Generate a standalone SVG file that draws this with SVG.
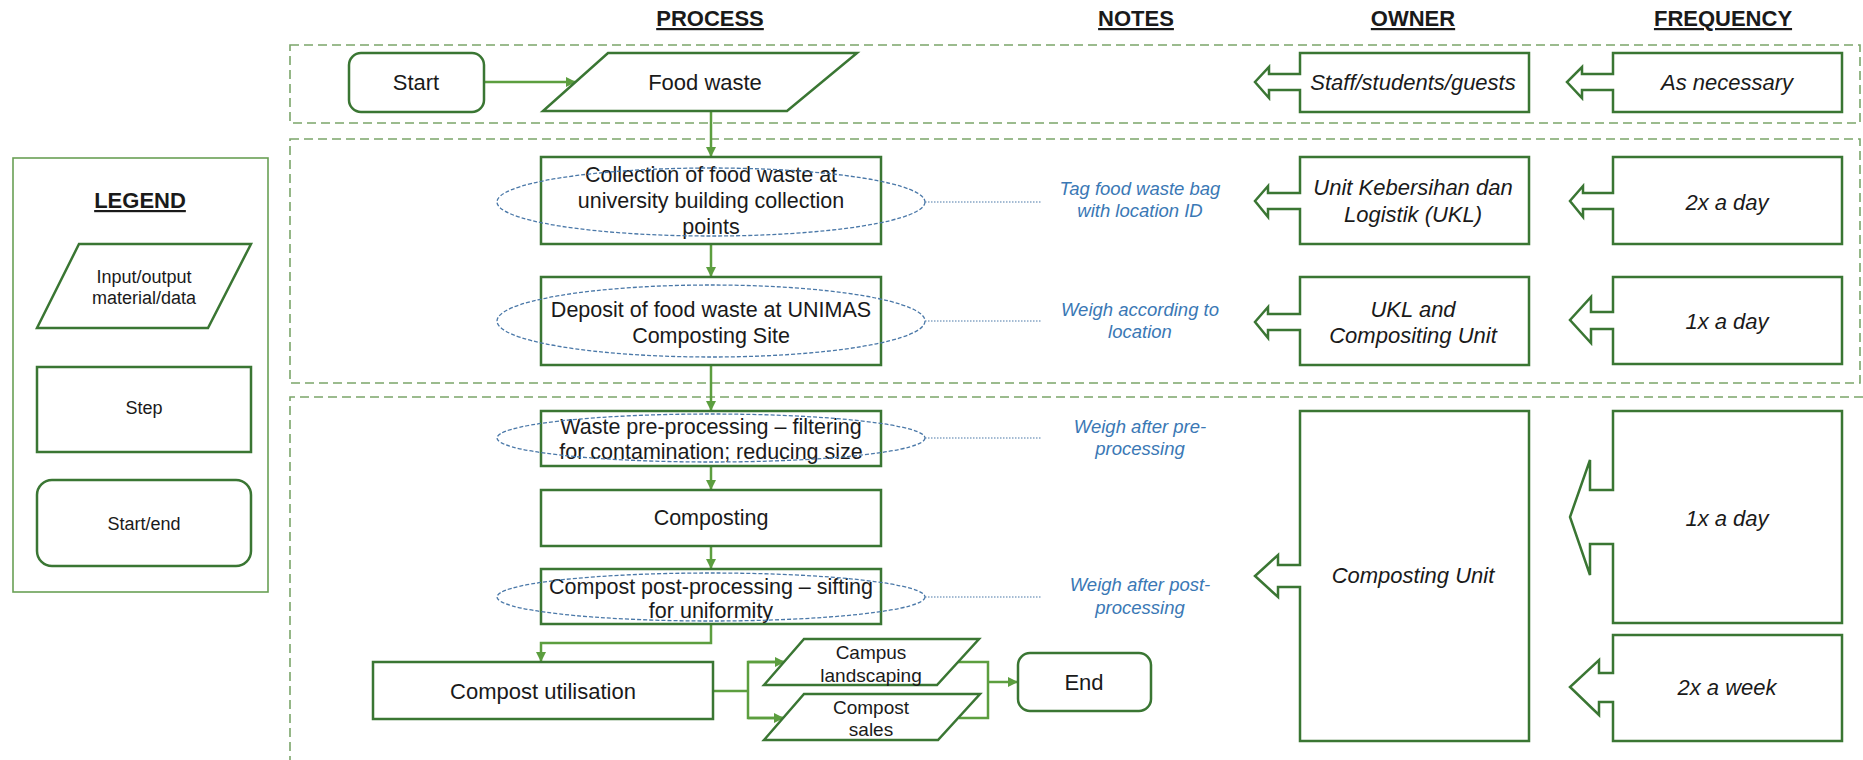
<svg xmlns="http://www.w3.org/2000/svg" width="1863" height="760" viewBox="0 0 1863 760">
  <defs>
    <marker id="arrow" viewBox="0 0 10 10" refX="9" refY="5" markerWidth="4" markerHeight="4" orient="auto" markerUnits="strokeWidth">
      <path d="M0,0 L10,5 L0,10 Z" fill="#5c9e3f"/>
    </marker>
    <style>
      .frame { fill: none; stroke: #7ba56a; stroke-width: 1.6; stroke-dasharray: 9 5; }
      .box { fill: #ffffff; stroke: #3a7633; stroke-width: 2.5; }
      .legend-frame { fill: #ffffff; stroke: #6aa055; stroke-width: 1.6; }
      .flow { fill: none; stroke: #5c9e3f; stroke-width: 2.5; }
      .oval { fill: none; stroke: #4a78a8; stroke-width: 1.3; stroke-dasharray: 4 2; }
      .leader { fill: none; stroke: #4a78a8; stroke-width: 1.2; stroke-dasharray: 1.5 1.5; }
      .head { font-family: "Liberation Sans", Arial, sans-serif; font-size: 22px; font-weight: bold; fill: #1a1a1a; text-anchor: middle; text-decoration: underline; }
      .t { font-family: "Liberation Sans", Arial, sans-serif; font-size: 21.5px; fill: #1a1a1a; text-anchor: middle; }
      .tl { font-family: "Liberation Sans", Arial, sans-serif; font-size: 22px; fill: #1a1a1a; text-anchor: middle; }
      .ts { font-family: "Liberation Sans", Arial, sans-serif; font-size: 19px; fill: #1a1a1a; text-anchor: middle; }
      .tg { font-family: "Liberation Sans", Arial, sans-serif; font-size: 18px; fill: #1a1a1a; text-anchor: middle; }
      .ti { font-family: "Liberation Sans", Arial, sans-serif; font-size: 22px; font-style: italic; fill: #1a1a1a; text-anchor: middle; }
      .note { font-family: "Liberation Sans", Arial, sans-serif; font-size: 18.5px; font-style: italic; fill: #3a78b5; text-anchor: middle; }
    </style>
  </defs>

  <rect width="1863" height="760" fill="#ffffff"/>

  <!-- column headers -->
  <g id="headers">
    <text class="head" x="710" y="26">PROCESS</text>
    <text class="head" x="1136" y="26">NOTES</text>
    <text class="head" x="1413" y="26">OWNER</text>
    <text class="head" x="1723" y="26">FREQUENCY</text>
  </g>

  <!-- stage frames -->
  <g id="frames">
    <rect class="frame" x="290" y="45" width="1570" height="78"/>
    <rect class="frame" x="290" y="139" width="1570" height="244"/>
    <path class="frame" d="M290,765 V397 H1870"/>
  </g>

  <!-- legend -->
  <g id="legend">
    <rect class="legend-frame" x="13" y="158" width="255" height="434"/>
    <text class="head" x="140" y="208">LEGEND</text>
    <polygon class="box" points="79,244 251,244 208,328 37,328"/>
    <text class="tg" x="144" y="283">Input/output</text>
    <text class="tg" x="144" y="304">material/data</text>
    <rect class="box" x="37" y="367" width="214" height="85"/>
    <text class="tg" x="144" y="414">Step</text>
    <rect class="box" x="37" y="480" width="214" height="86" rx="15"/>
    <text class="tg" x="144" y="530">Start/end</text>
  </g>

  <!-- connectors -->
  <g id="connectors">
    <line class="flow" x1="484" y1="82" x2="575" y2="82" marker-end="url(#arrow)"/>
    <line class="flow" x1="711" y1="111" x2="711" y2="156" marker-end="url(#arrow)"/>
    <line class="flow" x1="711" y1="244" x2="711" y2="276" marker-end="url(#arrow)"/>
    <line class="flow" x1="711" y1="365" x2="711" y2="410" marker-end="url(#arrow)"/>
    <line class="flow" x1="711" y1="466" x2="711" y2="489" marker-end="url(#arrow)"/>
    <line class="flow" x1="711" y1="546" x2="711" y2="568" marker-end="url(#arrow)"/>
    <polyline class="flow" points="711,624 711,643 541,643 541,661" marker-end="url(#arrow)"/>
    <polyline class="flow" points="713,691 748,691"/>
    <polyline class="flow" points="784,662 748,662 748,718 783,718"/>
    <line class="flow" x1="748" y1="662" x2="784" y2="662" marker-end="url(#arrow)"/>
    <line class="flow" x1="748" y1="718" x2="783" y2="718" marker-end="url(#arrow)"/>
    <polyline class="flow" points="958,662 988,662 988,718 959,718"/>
    <line class="flow" x1="988" y1="682" x2="1017" y2="682" marker-end="url(#arrow)"/>
  </g>

  <!-- process steps -->
  <g id="start">
    <rect class="box" x="349" y="53" width="135" height="59" rx="12"/>
    <text class="tl" x="416" y="90">Start</text>
  </g>
  <g id="food-waste">
    <polygon class="box" points="608,53 857,53 787,111 543,111"/>
    <text class="tl" x="705" y="90">Food waste</text>
  </g>
  <g id="collection">
    <rect class="box" x="541" y="157" width="340" height="87"/>
    <text class="t" x="711" y="182">Collection of food waste at</text>
    <text class="t" x="711" y="208">university building collection</text>
    <text class="t" x="711" y="234">points</text>
  </g>
  <g id="deposit">
    <rect class="box" x="541" y="277" width="340" height="88"/>
    <text class="t" x="711" y="317">Deposit of food waste at UNIMAS</text>
    <text class="t" x="711" y="343">Composting Site</text>
  </g>
  <g id="pre-processing">
    <rect class="box" x="541" y="411" width="340" height="55"/>
    <text class="t" x="711" y="434">Waste pre-processing – filtering</text>
    <text class="t" x="711" y="459">for contamination; reducing size</text>
  </g>
  <g id="composting">
    <rect class="box" x="541" y="490" width="340" height="56"/>
    <text class="t" x="711" y="525">Composting</text>
  </g>
  <g id="post-processing">
    <rect class="box" x="541" y="569" width="340" height="55"/>
    <text class="t" x="711" y="594">Compost post-processing – sifting</text>
    <text class="t" x="711" y="618">for uniformity</text>
  </g>
  <g id="utilisation">
    <rect class="box" x="373" y="662" width="340" height="57"/>
    <text class="tl" x="543" y="699">Compost utilisation</text>
  </g>
  <g id="landscaping">
    <polygon class="box" points="804,639 979,639 937,685 764,685"/>
    <text class="ts" x="871" y="659">Campus</text>
    <text class="ts" x="871" y="682">landscaping</text>
  </g>
  <g id="sales">
    <polygon class="box" points="804,694 980,694 938,740 764,740"/>
    <text class="ts" x="871" y="714">Compost</text>
    <text class="ts" x="871" y="736">sales</text>
  </g>
  <g id="end">
    <rect class="box" x="1018" y="653" width="133" height="58" rx="12"/>
    <text class="tl" x="1084" y="690">End</text>
  </g>

  <!-- highlighted steps with notes -->
  <g id="notes">
    <ellipse class="oval" cx="711" cy="202" rx="214" ry="34"/>
    <ellipse class="oval" cx="711" cy="321" rx="214" ry="36"/>
    <ellipse class="oval" cx="711" cy="438" rx="214" ry="24"/>
    <ellipse class="oval" cx="711" cy="597" rx="214" ry="24"/>
    <line class="leader" x1="925" y1="202" x2="1041" y2="202"/>
    <line class="leader" x1="925" y1="321" x2="1041" y2="321"/>
    <line class="leader" x1="925" y1="438" x2="1041" y2="438"/>
    <line class="leader" x1="925" y1="597" x2="1041" y2="597"/>
    <text class="note" x="1140" y="195">Tag food waste bag</text>
    <text class="note" x="1140" y="217">with location ID</text>
    <text class="note" x="1140" y="316">Weigh according to</text>
    <text class="note" x="1140" y="338">location</text>
    <text class="note" x="1140" y="433">Weigh after pre-</text>
    <text class="note" x="1140" y="455">processing</text>
    <text class="note" x="1140" y="591">Weigh after post-</text>
    <text class="note" x="1140" y="614">processing</text>
  </g>

  <!-- owners -->
  <g id="owner-1">
    <path class="box" d="M1300,53 H1529 V112 H1300 V90 H1269 V98 L1255,82 L1269,67 V74 H1300 Z"/>
    <text class="ti" x="1413" y="90">Staff/students/guests</text>
  </g>
  <g id="owner-2">
    <path class="box" d="M1300,157 H1529 V244 H1300 V209 H1268 V217 L1255,201 L1268,186 V193 H1300 Z"/>
    <text class="ti" x="1413" y="195">Unit Kebersihan dan</text>
    <text class="ti" x="1413" y="222">Logistik (UKL)</text>
  </g>
  <g id="owner-3">
    <path class="box" d="M1300,277 H1529 V365 H1300 V330 H1268 V338 L1255,322 L1268,307 V314 H1300 Z"/>
    <text class="ti" x="1413" y="317">UKL and</text>
    <text class="ti" x="1413" y="343">Compositing Unit</text>
  </g>
  <g id="owner-4">
    <path class="box" d="M1300,411 H1529 V741 H1300 V587 H1278 V597 L1255,576 L1278,555 V565 H1300 Z"/>
    <text class="ti" x="1413" y="583">Composting Unit</text>
  </g>

  <!-- frequencies -->
  <g id="freq-1">
    <path class="box" d="M1613,53 H1842 V112 H1613 V90 H1582 V98 L1567,82 L1582,67 V74 H1613 Z"/>
    <text class="ti" x="1727" y="90">As necessary</text>
  </g>
  <g id="freq-2">
    <path class="box" d="M1613,157 H1842 V244 H1613 V209 H1583 V217 L1570,201 L1583,186 V193 H1613 Z"/>
    <text class="ti" x="1727" y="210">2x a day</text>
  </g>
  <g id="freq-3">
    <path class="box" d="M1613,277 H1842 V364 H1613 V329 H1591 V343 L1570,320 L1591,297 V312 H1613 Z"/>
    <text class="ti" x="1727" y="329">1x a day</text>
  </g>
  <g id="freq-4">
    <path class="box" d="M1613,411 H1842 V623 H1613 V544 H1590 V575 L1570,517 L1590,460 V490 H1613 Z"/>
    <text class="ti" x="1727" y="526">1x a day</text>
  </g>
  <g id="freq-5">
    <path class="box" d="M1613,635 H1842 V741 H1613 V702 H1599 V715 L1570,687 L1599,660 V673 H1613 Z"/>
    <text class="ti" x="1727" y="695">2x a week</text>
  </g>
</svg>
